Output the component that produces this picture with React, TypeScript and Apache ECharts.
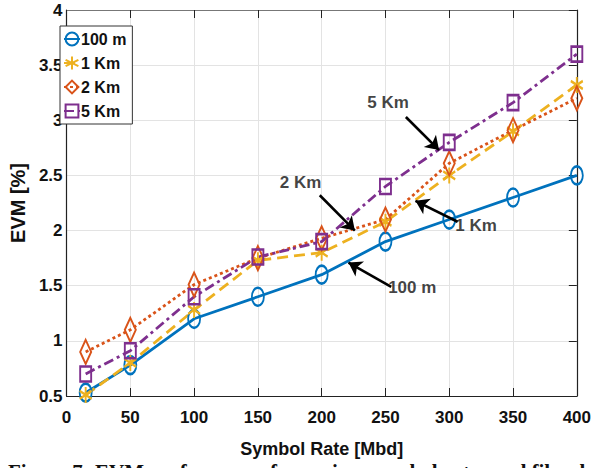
import React, { useEffect, useRef } from "react";
import * as echarts from "echarts";

const xValues = [15, 50, 100, 150, 200, 250, 300, 350, 400];
const evm100m = [0.53, 0.78, 1.2, 1.4, 1.6, 1.9, 2.1, 2.3, 2.5];
const evm1km = [0.51, 0.8, 1.28, 1.73, 1.8, 2.08, 2.5, 2.9, 3.32];
const evm2km = [0.9, 1.1, 1.51, 1.75, 1.93, 2.1, 2.61, 2.91, 3.2];
const evm5km = [0.7, 0.91, 1.4, 1.76, 1.9, 2.4, 2.8, 3.16, 3.6];
const seriesNames = ["100 m", "1 Km", "2 Km", "5 Km"];

const annotationLabels = ["5 Km", "2 Km", "1 Km", "100 m"];
const annotationTextAt = [
  [252, 3.16],
  [183.5, 2.44],
  [321, 2.05],
  [271, 1.48],
];
const arrowFrom = [
  [266, 3.03],
  [198.5, 2.32],
  [306.5, 2.08],
  [254.5, 1.49],
];
const arrowTo = [
  [292, 2.73],
  [226, 2.0],
  [273.5, 2.27],
  [221, 1.71],
];

const xTicks = [0, 400, 50];
const yTicks = [0.5, 4, 0.5];

const FONT = "'Liberation Sans Narrow', 'Liberation Sans', Arial, sans-serif";
const STAR = "path://M0,-6L0,6M-5.2,-3L5.2,3M-5.2,3L5.2,-3";
const ELLIPSE = "path://M0,-10A10,10 0 1 1 0,10A10,10 0 1 1 0,-10Z";
const DIAMOND = "path://M0,-10L10,0L0,10L-10,0Z";
const SQUARE = "path://M-10,-10L10,-10L10,10L-10,10Z";

export default function App() {
  const ref = useRef<HTMLDivElement>(null);
  useEffect(() => {
    if (!ref.current) return;
    const chart = echarts.init(ref.current, null, { renderer: "svg" });
    const pts = (ys: number[]) => xValues.map((x, i) => [x, ys[i]]);
    const mk = (
      name: string,
      ys: number[],
      color: string,
      symbol: string,
      size: any,
      lineType: any,
      width: number
    ) => ({
      name,
      type: "line",
      data: pts(ys),
      symbol,
      symbolSize: size,
      symbolKeepAspect: false,
      showSymbol: true,
      lineStyle: { color, width, type: lineType, cap: "butt" },
      itemStyle: { color: "rgba(255,255,255,0)", borderColor: color, borderWidth: 2.2 },
      z: 3,
    });
    const option: any = {
      animation: false,
      backgroundColor: "#fff",
      grid: { left: 48, right: 12, top: 10, bottom: 72, containLabel: false },
      legend: {
        data: seriesNames,
        orient: "vertical",
        left: 60,
        top: 26,
        itemWidth: 16,
        itemHeight: 16,
        itemGap: 8,
        padding: [5, 6, 5, 3],
        borderColor: "#333",
        borderWidth: 1,
        backgroundColor: "#fff",
        selectedMode: false,
        textStyle: { fontFamily: FONT, fontWeight: "bold", fontSize: 16, color: "#111", padding: [0, 0, 0, -4] },
      },
      xAxis: [
        {
          type: "value",
          min: xTicks[0],
          max: xTicks[1],
          interval: xTicks[2],
          name: "Symbol Rate [Mbd]",
          nameLocation: "middle",
          nameGap: 44,
          nameTextStyle: { fontFamily: FONT, fontWeight: "bold", fontSize: 18, color: "#111" },
          axisLine: { lineStyle: { color: "#222", width: 1.2 } },
          axisTick: { inside: true, length: 8, lineStyle: { color: "#222" } },
          axisLabel: { fontFamily: FONT, fontWeight: "bold", fontSize: 17, color: "#111", margin: 13 },
          splitLine: { show: true, lineStyle: { color: "#e3e3e3", width: 1 } },
        },
        {
          type: "value",
          position: "top",
          min: xTicks[0],
          max: xTicks[1],
          interval: xTicks[2],
          axisLine: { show: true, onZero: false, lineStyle: { color: "#777", width: 1 } },
          axisTick: { inside: true, length: 8, lineStyle: { color: "#222" } },
          axisLabel: { show: false },
          splitLine: { show: false },
        },
      ],
      yAxis: [
        {
          type: "value",
          min: yTicks[0],
          max: yTicks[1],
          interval: yTicks[2],
          name: "EVM [%]",
          nameLocation: "middle",
          nameGap: 28,
          nameRotate: 90,
          nameTextStyle: { fontFamily: "'Liberation Sans', Arial, sans-serif", fontWeight: "bold", fontSize: 20, color: "#111" },
          axisLine: { show: true, lineStyle: { color: "#222", width: 1.2 } },
          axisTick: { show: false },
          axisLabel: { fontFamily: FONT, fontWeight: "bold", fontSize: 17, color: "#111", margin: 4 },
          splitLine: { show: true, lineStyle: { color: "#e3e3e3", width: 1 } },
        },
        {
          type: "value",
          position: "right",
          min: yTicks[0],
          max: yTicks[1],
          interval: yTicks[2],
          axisLine: { show: true, onZero: false, lineStyle: { color: "#222", width: 1.2 } },
          axisTick: { show: true, inside: true, length: 8, lineStyle: { color: "#222" } },
          axisLabel: { show: false },
          splitLine: { show: false },
        },
      ],
      series: [
        mk(seriesNames[0], evm100m, "#0072BD", ELLIPSE, [12, 18], "solid", 2.8),
        mk(seriesNames[1], evm1km, "#EDB120", STAR, [12, 16], [11, 6], 2.8),
        mk(seriesNames[2], evm2km, "#D95319", DIAMOND, [11, 24], [3, 3], 2.8),
        mk(seriesNames[3], evm5km, "#7E2F8E", SQUARE, [11, 15], [10, 4, 3, 4], 2.8),
        {
          name: "annotations",
          type: "scatter",
          data: annotationTextAt.map((p, i) => [p[0], p[1], annotationLabels[i]]),
          symbolSize: 1,
          itemStyle: { color: "rgba(0,0,0,0)" },
          label: {
            show: true,
            position: "inside",
            formatter: (p: any) => p.data[2],
            fontFamily: FONT,
            fontWeight: "bold",
            fontSize: 17,
            color: "#111",
          },
          silent: true,
          z: 5,
        },
        {
          name: "arrows",
          type: "line",
          data: [],
          markLine: {
            silent: true,
            symbol: ["none", "arrow"],
            symbolSize: 13,
            label: { show: false },
            lineStyle: { color: "#000", width: 2.6, type: "solid" },
            itemStyle: { color: "#000" },
            data: arrowFrom.map((f, i) => [{ coord: f }, { coord: arrowTo[i] }]),
          },
          z: 4,
        },
      ],
      graphic: [
        {
          type: "text",
          left: 8,
          top: 461,
          style: {
            text: "Figure 7: EVM performance for various symbol rates and fiber lengths",
            font: "bold 21px 'Liberation Serif', 'Times New Roman', serif",
            fill: "#111",
          },
        },
      ],
    };
    chart.setOption(option);
    return () => chart.dispose();
  }, []);
  return (
    <div
      ref={ref}
      style={{ position: "fixed", left: 0, top: 0, width: 594, height: 468, overflow: "hidden" }}
    />
  );
}
